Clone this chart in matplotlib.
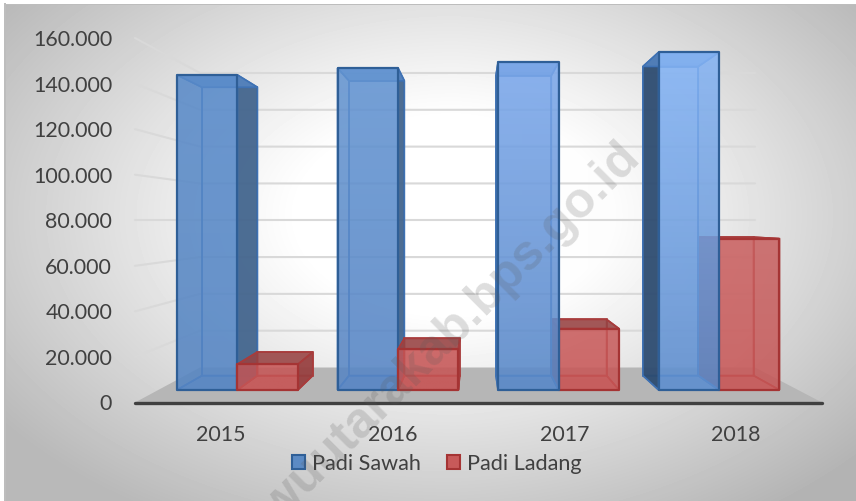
import numpy as np
import matplotlib
matplotlib.use("Agg")
import matplotlib.pyplot as plt
from matplotlib.patches import Polygon, Patch, Rectangle
from matplotlib.colors import LinearSegmentedColormap, to_rgba

years = ["2015", "2016", "2017", "2018"]
padi_sawah = [148500, 151800, 154500, 159200]
padi_ladang = [12100, 19100, 28900, 71300]
tick_values = [0, 20000, 40000, 60000, 80000, 100000, 120000, 140000, 160000]
tick_labels = ["0", "20.000", "40.000", "60.000", "80.000", "100.000", "120.000", "140.000", "160.000"]
series_names = ["Padi Sawah", "Padi Ladang"]

W, H = 856, 501
plt.rcParams['font.family'] = ['Lato', 'DejaVu Sans']
TXT = '#404040'
fig = plt.figure(figsize=(W/100, H/100), dpi=100, facecolor='white')

# background
bg = fig.add_axes([0, 0, 1, 1], zorder=0)
yy, xx = np.mgrid[4:H, 5:W]
r = np.sqrt(((xx-455)/560.0)**2 + ((yy-215)/350.0)**2)
shade = 255 - 70*np.clip((r-0.28)/0.72, 0, 1)**1.05
shade = shade + (xx > 455)*(-6)*np.clip((xx-455)/400, 0, 1)
bg.imshow(shade, cmap='gray', vmin=0, vmax=255, extent=(5, W, H, 4), aspect='auto', interpolation='bilinear')
bg.set_xlim(0, W); bg.set_ylim(H, 0); bg.axis('off')
fig.add_artist(Rectangle((4/W, 0), 1.5/W, (H-3)/H, transform=fig.transFigure, fc='#bdbdbd', ec='none'))
fig.add_artist(Rectangle((4/W, (H-5)/H), (W-4)/W, 1.5/H, transform=fig.transFigure, fc='#bdbdbd', ec='none'))

# main axes: front plane
L, R, T, B = 135, 822, 38, 402.5
ax = fig.add_axes([L/W, 1-B/H, (R-L)/W, (B-T)/H], zorder=1)
ax.patch.set_visible(False)
ax.set_xlim(0, 4); ax.set_ylim(0, 160000)
for s in ['top', 'left', 'right']:
    ax.spines[s].set_visible(False)
ax.spines['bottom'].set_color('#404040')
ax.spines['bottom'].set_linewidth(2.4)
ax.spines['bottom'].set_capstyle('round')
ax.set_yticks(tick_values, tick_labels)
ax.set_xticks(np.arange(len(years))+0.5, years)
ax.tick_params(axis='y', length=0, pad=16.5, labelsize=15.4, labelcolor=TXT)
ax.tick_params(axis='x', length=0, pad=16.0, labelsize=15.4, labelcolor=TXT)

VX, VY = 1.971, 80000.0
S_WALL, S_FRONT, S_BACK = 0.808, 0.931, 0.852
STEP, OFFSET, BW = 1.0040, 0.1165, 0.378

def proj(x, v, s):
    return (VX + (x-VX)*s, VY + (v-VY)*s)

def poly(pts, **kw):
    p = Polygon(pts, closed=True, clip_on=False, **kw)
    ax.add_patch(p)
    return p

# wall gridlines
for v in tick_values[1:]:
    a = proj(0, v, 1); b = proj(0, v, S_WALL); c = proj(4, v, S_WALL)
    ax.plot([a[0], b[0], c[0]], [a[1], b[1], c[1]], color='#d9d9d9', lw=1.5, clip_on=False, zorder=1, solid_capstyle='round')
poly([proj(0, 0, 1), proj(4, 0, 1), proj(4, 0, S_WALL), proj(0, 0, S_WALL)], fc='#b6b6b6', ec='none', zorder=1.5)

blue_top = ['#5a8ccb', '#6596d3', '#7fabee', '#88b7f8']
blue_bot = ['#5686c4', '#5886c5', '#5a89c8', '#5f8fcf']
blue_side = ['#42648c', '#42648c', '#365a85', '#2c4a6e']
red_top = ['#c65656', '#c65656', '#c95c5c', '#cb6262']
red_bot = ['#c85656', '#c85656', '#c85656', '#c85858']

def box(x0, x1, v, top, bot, edge, inner, side, topc, z, a):
    zz = z
    def face(pts, col, al, ec=inner, lw=1.2):
        nonlocal zz
        poly(pts, fc=to_rgba(col, al), ec=ec, lw=lw, zorder=zz)
        zz += 0.01
    fb = lambda x, y: proj(x, y, S_FRONT)
    bb = lambda x, y: proj(x, y, S_BACK)
    # a side face standing clear of the front face is dark, one seen through it is faint
    left_alpha = 0.92 if x0 > VX else 0.2
    right_alpha = 0.92 if x1 < VX else 0.2
    face([bb(x0,0), bb(x1,0), bb(x1,v), bb(x0,v)], bot, 0.3)
    face([fb(x0,0), fb(x1,0), bb(x1,0), bb(x0,0)], bot, 0.5)
    face([fb(x0,0), bb(x0,0), bb(x0,v), fb(x0,v)], side, left_alpha)
    face([fb(x1,0), bb(x1,0), bb(x1,v), fb(x1,v)], side, right_alpha)
    face([fb(x0,v), fb(x1,v), bb(x1,v), bb(x0,v)], topc, 0.85)
    pts = [fb(x0,0), fb(x1,0), fb(x1,v), fb(x0,v)]
    clip = poly(pts, fc='none', ec='none', zorder=zz)
    cm = LinearSegmentedColormap.from_list('g', [bot, top])
    g = np.linspace(0, 1, 64)[:, None]
    im = ax.imshow(g, cmap=cm, origin='lower', extent=(pts[0][0], pts[1][0], pts[0][1], pts[2][1]),
                   aspect='auto', alpha=a, zorder=zz+0.001)
    im.set_clip_box(None)
    im.set_clip_path(clip)
    poly(pts, fc='none', ec=edge, lw=1.6, zorder=zz+0.002, joinstyle='round')

for i in range(len(years)):
    x0 = OFFSET + STEP*i
    b_args = (x0, x0+BW, padi_sawah[i], blue_top[i], blue_bot[i], '#2f5f97', '#3f72b4', blue_side[i], '#5585c2')
    r_args = (x0+BW, x0+2*BW, padi_ladang[i], red_top[i], red_bot[i], '#a53434', '#a83c3c', '#964040', '#964444')
    if i < 2:
        box(*b_args, 3+i, 0.84)
        box(*r_args, 3.5+i, 0.82)
    else:
        box(*r_args, 3+i, 0.82)
        box(*b_args, 3.5+i, 0.84)
ax.set_xlim(0, 4); ax.set_ylim(0, 160000)

handles = [Patch(fc='#5b8ac4', ec='#2f5f97', lw=1.5, label=series_names[0]),
           Patch(fc='#c85a5a', ec='#a53434', lw=1.5, label=series_names[1])]
fig.legend(handles=handles, loc='center', bbox_to_anchor=(436.5/W, 1-463.5/H), ncols=2, frameon=False,
           fontsize=15.6, labelcolor=TXT, handlelength=0.62, handleheight=0.62, handletextpad=0.3, columnspacing=1.2)

fig.text(641/W, 1-158/H, 'luwuutarakab.bps.go.id', rotation=45, rotation_mode='anchor', ha='right', va='baseline',
         fontsize=36, fontweight='bold', family=['Liberation Sans'], color=(0.35, 0.35, 0.35, 0.2), zorder=10)
fig.savefig('out.png', dpi=100)
